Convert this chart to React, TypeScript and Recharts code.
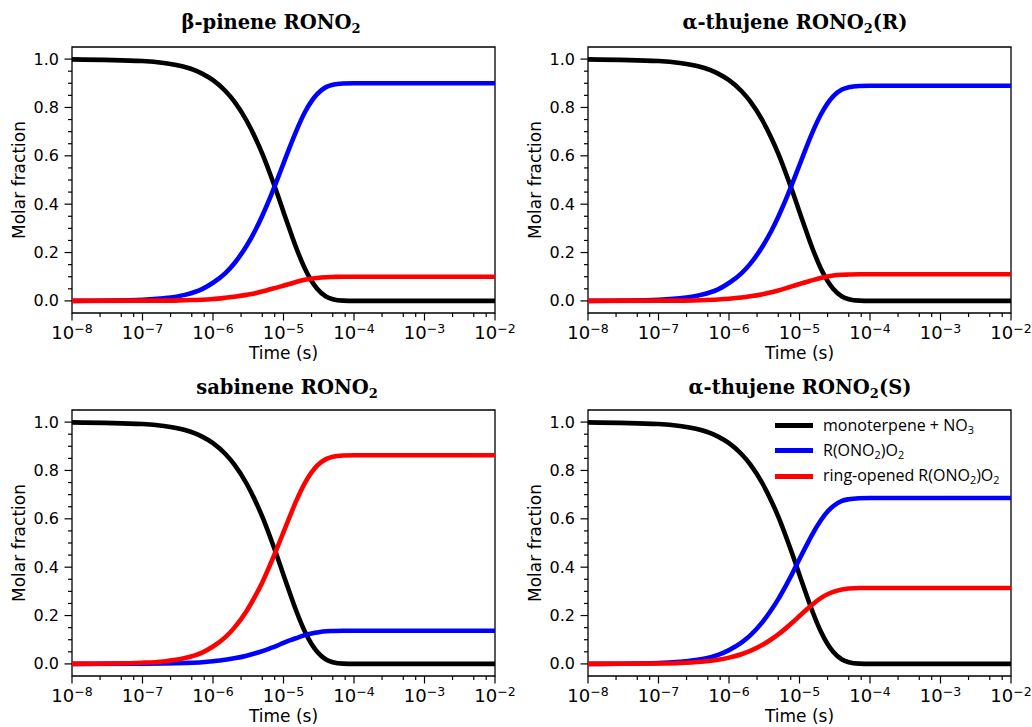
import React from "react";
import { LineChart, Line, XAxis, YAxis, ReferenceArea, Legend } from "recharts";

// time grid (s) the curves were read at
const TIME_S = [
  1e-8, 1e-7, 2e-7, 4e-7, 7e-7, 1e-6, 1.5e-6, 2e-6, 3e-6, 4e-6, 5e-6, 6.5e-6, 8e-6,
  1e-5, 1.25e-5, 1.5e-5, 2e-5, 2.5e-5, 3e-5, 4e-5, 5e-5, 7e-5, 1e-4, 1e-3, 1e-2,
];

// monoterpene + NO3 (same in all four panels)
const MONOTERPENE = [
  0.999, 0.992, 0.984, 0.967, 0.94, 0.913, 0.868, 0.825, 0.745, 0.673, 0.609, 0.523, 0.45,
  0.368, 0.287, 0.223, 0.135, 0.082, 0.05, 0.018, 0.007, 0.001, 0, 0, 0,
];

const BPIN_RO2 = [
  0, 0.005, 0.011, 0.025, 0.049, 0.075, 0.115, 0.155, 0.228, 0.293, 0.352, 0.429, 0.495,
  0.569, 0.642, 0.699, 0.779, 0.826, 0.855, 0.884, 0.894, 0.899, 0.9, 0.9, 0.9,
];
const BPIN_RING = [
  0, 0.001, 0.001, 0.003, 0.005, 0.008, 0.013, 0.017, 0.025, 0.032, 0.039, 0.048, 0.055,
  0.063, 0.071, 0.078, 0.087, 0.092, 0.095, 0.098, 0.099, 0.1, 0.1, 0.1, 0.1,
];

const THUJ_R_RO2 = [
  0, 0.005, 0.011, 0.025, 0.048, 0.074, 0.114, 0.153, 0.226, 0.29, 0.348, 0.424, 0.489,
  0.562, 0.635, 0.692, 0.77, 0.817, 0.846, 0.874, 0.884, 0.889, 0.89, 0.89, 0.89,
];
const THUJ_R_RING = [
  0, 0.001, 0.001, 0.003, 0.006, 0.009, 0.014, 0.019, 0.028, 0.036, 0.043, 0.053, 0.061,
  0.07, 0.078, 0.085, 0.095, 0.101, 0.105, 0.108, 0.109, 0.11, 0.11, 0.11, 0.11,
];

const SAB_RO2 = [
  0, 0.001, 0.002, 0.004, 0.007, 0.011, 0.017, 0.023, 0.034, 0.044, 0.053, 0.065, 0.075,
  0.087, 0.098, 0.106, 0.119, 0.126, 0.13, 0.135, 0.136, 0.137, 0.137, 0.137, 0.137,
];
const SAB_RING = [
  0, 0.005, 0.01, 0.024, 0.047, 0.072, 0.111, 0.149, 0.219, 0.282, 0.337, 0.412, 0.475,
  0.545, 0.615, 0.671, 0.747, 0.792, 0.82, 0.847, 0.857, 0.862, 0.863, 0.863, 0.863,
];

const THUJ_S_RO2 = [
  0, 0.004, 0.009, 0.019, 0.037, 0.057, 0.088, 0.118, 0.174, 0.224, 0.268, 0.327, 0.377,
  0.434, 0.489, 0.533, 0.593, 0.63, 0.652, 0.674, 0.681, 0.685, 0.686, 0.686, 0.686,
];
const THUJ_S_RING = [
  0, 0.002, 0.004, 0.009, 0.017, 0.026, 0.04, 0.054, 0.079, 0.102, 0.122, 0.149, 0.172,
  0.198, 0.224, 0.244, 0.272, 0.288, 0.298, 0.308, 0.312, 0.314, 0.314, 0.314, 0.314,
];

const X_TICKS = [
  1e-8, 2.5e-8, 5e-8, 7.5e-8, 1e-7, 2.5e-7, 5e-7, 7.5e-7, 1e-6, 2.5e-6, 5e-6, 7.5e-6,
  1e-5, 2.5e-5, 5e-5, 7.5e-5, 1e-4, 2.5e-4, 5e-4, 7.5e-4, 1e-3, 2.5e-3, 5e-3, 7.5e-3, 1e-2,
];
const Y_TICKS = [
  0, 0.05, 0.1, 0.15, 0.2, 0.25, 0.3, 0.35, 0.4, 0.45, 0.5, 0.55, 0.6, 0.65, 0.7, 0.75,
  0.8, 0.85, 0.9, 0.95, 1,
];

const SERIES_NAMES = ["monoterpene + NO3", "R(ONO2)O2", "ring-opened R(ONO2)O2"];
const SERIES_COLORS = ["#000000", "#0000ff", "#ff0000"];

const PANELS = [
  { title: ["β-pinene RONO", "2", ""], cx: 271, left: 0, top: 0, ro2: BPIN_RO2, ring: BPIN_RING, legend: false },
  { title: ["α-thujene RONO", "2", "(R)"], cx: 279, left: 516, top: 0, ro2: THUJ_R_RO2, ring: THUJ_R_RING, legend: false },
  { title: ["sabinene RONO", "2", ""], cx: 287, left: 0, top: 363, ro2: SAB_RO2, ring: SAB_RING, legend: false },
  { title: ["α-thujene RONO", "2", "(S)"], cx: 284, left: 516, top: 363, ro2: THUJ_S_RO2, ring: THUJ_S_RING, legend: true },
];

const SANS = "DejaVu Sans, sans-serif";

function XTick(props: any) {
  const { x, y, payload } = props;
  const v = payload.value;
  const e = Math.log10(v);
  const major = Math.abs(e - Math.round(e)) < 1e-6;
  return (
    <g>
      <line x1={x} x2={x} y1={y} y2={y + (major ? 7.5 : 4)} stroke="#000" strokeWidth={1.2} />
      {major ? (
        <text x={x} y={y + 26} textAnchor="middle" fontFamily={SANS} fontSize={18} fill="#000">
          10
          <tspan dy={-6.5} fontSize={12.5}>{"\u2212" + Math.abs(Math.round(e))}</tspan>
        </text>
      ) : null}
    </g>
  );
}

function YTick(props: any) {
  const { x, y, payload } = props;
  const v = payload.value;
  const major = Math.abs(v * 5 - Math.round(v * 5)) < 1e-6;
  return (
    <g>
      <line x1={x} x2={x - (major ? 7.5 : 4)} y1={y} y2={y} stroke="#000" strokeWidth={1.2} />
      {major ? (
        <text x={x - 13} y={y + 5.5} textAnchor="end" fontFamily={SANS} fontSize={16} fill="#000">
          {v.toFixed(1)}
        </text>
      ) : null}
    </g>
  );
}

// turn the digits of a formula into subscripts
function chem(s: string) {
  const parts = s.split(/(\d)/);
  return parts.map((p, i) =>
    /\d/.test(p) ? (
      <sub key={i} style={{ fontSize: "0.68em", lineHeight: 0, verticalAlign: "-0.3em" }}>{p}</sub>
    ) : (
      <span key={i}>{p}</span>
    )
  );
}

function renderLegend() {
  return (
    <div style={{ fontFamily: "'Open Sans', sans-serif", fontSize: 16, color: "#000" }}>
      {SERIES_NAMES.map((name, i) => (
        <div key={name} style={{ display: "flex", alignItems: "center", height: 25.3 }}>
          <div style={{ width: 38, height: 5, background: SERIES_COLORS[i], marginRight: 10 }} />
          <div style={{ lineHeight: 1, marginTop: -2 }}>{chem(name)}</div>
        </div>
      ))}
    </div>
  );
}

function Panel({ panel }: { panel: (typeof PANELS)[number] }) {
  const data = TIME_S.map((t, i) => ({
    t,
    mono: MONOTERPENE[i],
    ro2: panel.ro2[i],
    ring: panel.ring[i],
  }));
  const [a, b, c] = panel.title;
  return (
    <div style={{ position: "absolute", left: panel.left, top: panel.top, width: 516, height: 364 }}>
      <LineChart width={516} height={364} data={data} margin={{ top: 47, right: 21, bottom: 0, left: 0 }}>
        <XAxis
          dataKey="t"
          type="number"
          scale="log"
          domain={[1e-8, 1e-2]}
          allowDataOverflow
          ticks={X_TICKS}
          interval={0}
          tick={<XTick />}
          tickLine={false}
          tickSize={0}
          tickMargin={0}
          axisLine={false}
          height={51}
          label={{
            content: (p: any) => {
              const vb = p.viewBox;
              return (
                <text x={vb.x + vb.width / 2} y={vb.y + 46} textAnchor="middle" fontFamily={SANS} fontSize={17} fill="#000">
                  Time (s)
                </text>
              );
            },
          }}
        />
        <YAxis
          type="number"
          domain={[-0.05, 1.05]}
          allowDataOverflow
          ticks={Y_TICKS}
          interval={0}
          tick={<YTick />}
          tickLine={false}
          tickSize={0}
          tickMargin={0}
          axisLine={false}
          width={72}
          label={{
            content: (p: any) => {
              const vb = p.viewBox;
              const cy = vb.y + vb.height / 2;
              return (
                <text x={25} y={cy} transform={`rotate(-90, 25, ${cy})`} textAnchor="middle" fontFamily={SANS} fontSize={17} fill="#000">
                  Molar fraction
                </text>
              );
            },
          }}
        />
        <Line type="monotone" dataKey="mono" name={SERIES_NAMES[0]} stroke={SERIES_COLORS[0]} strokeWidth={4.6} dot={false} isAnimationActive={false} />
        <Line type="monotone" dataKey="ro2" name={SERIES_NAMES[1]} stroke={SERIES_COLORS[1]} strokeWidth={4.6} dot={false} isAnimationActive={false} />
        <Line type="monotone" dataKey="ring" name={SERIES_NAMES[2]} stroke={SERIES_COLORS[2]} strokeWidth={4.6} dot={false} isAnimationActive={false} />
        <ReferenceArea x1={1e-8} x2={1e-2} y1={-0.05} y2={1.05} fill="none" fillOpacity={0} stroke="#000" strokeWidth={1.3} ifOverflow="visible" />
        {panel.legend ? (
          <Legend
            layout="vertical"
            align="center"
            verticalAlign="middle"
            content={renderLegend}
            wrapperStyle={{ left: 259, top: 50, width: 250 }}
          />
        ) : null}
      </LineChart>
      <svg width={516} height={40} style={{ position: "absolute", left: 0, top: 0 }}>
        <text x={panel.cx} y={panel.top ? 31 : 28.5} textAnchor="middle" fontFamily="DejaVu Serif, serif" fontWeight="bold" fontSize={19.5} fill="#000">
          {a}
          <tspan dy={4} fontSize={13}>{b}</tspan>
          {c ? <tspan dy={-4} fontSize={19.5}>{c}</tspan> : null}
        </text>
      </svg>
    </div>
  );
}

export default function App() {
  return (
    <div style={{ position: "absolute", left: 0, top: 0, width: 1032, height: 727, background: "#fff" }}>
      {PANELS.map((p, i) => (
        <Panel key={i} panel={p} />
      ))}
    </div>
  );
}
